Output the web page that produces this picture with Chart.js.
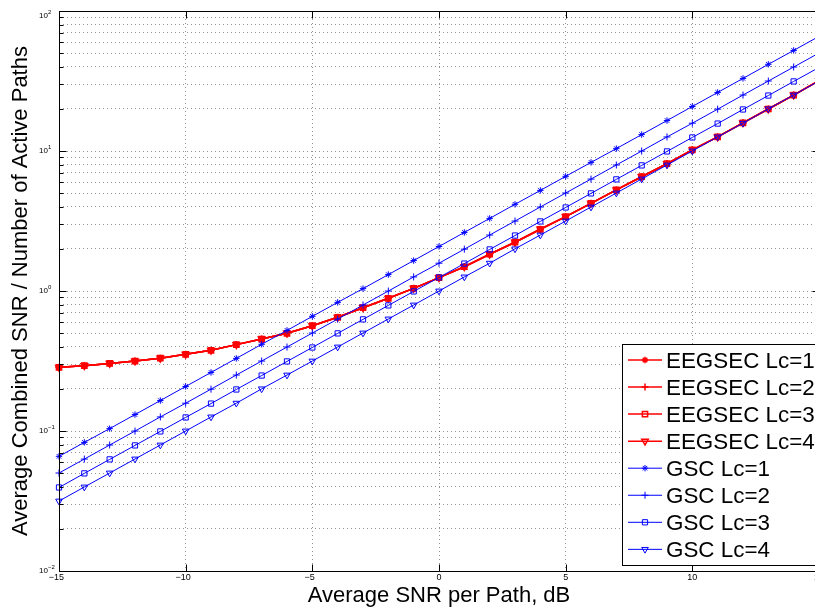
<!DOCTYPE html>
<html>
<head>
<meta charset="utf-8">
<script src="https://cdn.jsdelivr.net/npm/chart.js@4.4.1/dist/chart.umd.min.js"></script>
<style>
  html, body { margin: 0; padding: 0; background: #fff; overflow: hidden; width: 815px; height: 609px; }
  #wrap { position: relative; width: 840px; height: 609px; }
  canvas { display: block; }
</style>
</head>
<body>
<div id="wrap"><canvas id="c" width="840" height="609"></canvas></div>
<script>
// Average SNR per path (dB)
const snrDb = [-15, -14, -13, -12, -11, -10, -9, -8, -7, -6, -5, -4, -3, -2, -1,
               0, 1, 2, 3, 4, 5, 6, 7, 8, 9, 10, 11, 12, 13, 14, 15];

// EEGSEC: the four Lc curves lie on top of each other
const eegsec = [0.285, 0.293, 0.304, 0.316, 0.331, 0.353, 0.377, 0.414, 0.454, 0.499,
                0.565, 0.649, 0.760, 0.887, 1.045, 1.245, 1.49, 1.83, 2.23, 2.76,
                3.40, 4.23, 5.27, 6.55, 8.11, 10.2, 12.6, 15.9, 19.95, 25.1, 31.8];

// GSC, combined SNR divided by the number of combined paths
const gscLc1 = [0.0659, 0.0829, 0.104, 0.131, 0.165, 0.208, 0.262, 0.330, 0.416, 0.523,
                0.659, 0.829, 1.04, 1.31, 1.65, 2.08, 2.62, 3.30, 4.16, 5.23,
                6.59, 8.29, 10.4, 13.1, 16.5, 20.8, 26.2, 33.0, 41.6, 52.3, 65.9];
const gscLc2 = [0.0501, 0.0630, 0.0794, 0.0999, 0.126, 0.158, 0.199, 0.251, 0.316, 0.398,
                0.501, 0.630, 0.794, 0.999, 1.26, 1.58, 1.99, 2.51, 3.16, 3.98,
                5.01, 6.30, 7.94, 9.99, 12.6, 15.8, 19.9, 25.1, 31.6, 39.8, 50.1];
const gscLc3 = [0.0395, 0.0498, 0.0627, 0.0789, 0.0993, 0.125, 0.157, 0.198, 0.249, 0.314,
                0.395, 0.498, 0.627, 0.789, 0.993, 1.25, 1.57, 1.98, 2.49, 3.14,
                3.95, 4.98, 6.27, 7.89, 9.93, 12.5, 15.7, 19.8, 24.9, 31.4, 39.5];
const gscLc4 = [0.0316, 0.0398, 0.0501, 0.0631, 0.0794, 0.100, 0.126, 0.158, 0.200, 0.251,
                0.316, 0.398, 0.501, 0.631, 0.794, 1.00, 1.26, 1.58, 2.00, 2.51,
                3.16, 3.98, 5.01, 6.31, 7.94, 10.0, 12.6, 15.8, 20.0, 25.1, 31.6];

const seriesNames = ['EEGSEC Lc=1', 'EEGSEC Lc=2', 'EEGSEC Lc=3', 'EEGSEC Lc=4',
                     'GSC Lc=1', 'GSC Lc=2', 'GSC Lc=3', 'GSC Lc=4'];

// Axis ticks
const xTickValues = [-15, -10, -5, 0, 5, 10, 15];
const yDecadeExponents = [-2, -1, 0, 1, 2];
const xTitle = 'Average SNR per Path, dB';
const yTitle = 'Average Combined SNR / Number of Active Paths';

const FONT = '"Liberation Sans", Arial, Helvetica, sans-serif';
const RED = '#ff0000';
const BLUE = '#0000ff';

const markerStyles = [
  { pointStyle: 'star', radius: 3.2, rotation: 0 },
  { pointStyle: 'cross', radius: 3.5, rotation: 0 },
  { pointStyle: 'rect', radius: 3.7, rotation: 0 },
  { pointStyle: 'triangle', radius: 3.8, rotation: 180 }
];

function makeSeries(label, values, color, marker, width, order) {
  return {
    label: label,
    data: snrDb.map((x, i) => ({ x: x, y: values[i] })),
    borderColor: color,
    backgroundColor: 'rgba(0,0,0,0)',
    borderWidth: width,
    pointStyle: marker.pointStyle,
    pointRadius: marker.radius,
    pointHoverRadius: marker.radius,
    pointRotation: marker.rotation,
    pointBorderColor: color,
    pointBackgroundColor: 'rgba(0,0,0,0)',
    pointBorderWidth: width,
    tension: 0,
    clip: false,
    order: order
  };
}

const eegsecSeries = [eegsec, eegsec, eegsec, eegsec];
const gscSeries = [gscLc1, gscLc2, gscLc3, gscLc4];

const datasets = [];
eegsecSeries.forEach((vals, i) => datasets.push(makeSeries(seriesNames[i], vals, RED, markerStyles[i], 1.5, 1)));
gscSeries.forEach((vals, i) => datasets.push(makeSeries(seriesNames[4 + i], vals, BLUE, markerStyles[i], 1, 0)));

// Marker path used by the legend (same shapes as the plotted points)
function drawMarker(ctx, m, x, y) {
  if (Chart.helpers && Chart.helpers.drawPoint) {
    Chart.helpers.drawPoint(ctx, { pointStyle: m.pointStyle, radius: m.radius, rotation: m.rotation, borderWidth: ctx.lineWidth }, x, y);
    return;
  }
  const r = m.radius;
  ctx.beginPath();
  if (m.pointStyle === 'star') {
    for (let k = 0; k < 4; k++) {
      const a = k * Math.PI / 4;
      ctx.moveTo(x - Math.cos(a) * r, y - Math.sin(a) * r);
      ctx.lineTo(x + Math.cos(a) * r, y + Math.sin(a) * r);
    }
  } else if (m.pointStyle === 'cross') {
    ctx.moveTo(x - r, y); ctx.lineTo(x + r, y);
    ctx.moveTo(x, y - r); ctx.lineTo(x, y + r);
  } else if (m.pointStyle === 'rect') {
    const s = r * Math.SQRT1_2;
    ctx.rect(x - s, y - s, 2 * s, 2 * s);
  } else {
    const w = r * Math.sqrt(3) / 2;
    ctx.moveTo(x, y + r); ctx.lineTo(x - w, y - r / 2); ctx.lineTo(x + w, y - r / 2); ctx.closePath();
  }
  ctx.stroke();
}

// Box, inward ticks, tick labels and the legend
const framePlugin = {
  id: 'frame',
  afterDraw(chart) {
    const ctx = chart.ctx;
    const a = chart.chartArea;
    const xs = chart.scales.x;
    const ys = chart.scales.y;
    const L = Math.round(a.left) + 0.5;
    const R = Math.round(a.right) + 0.5;
    const T = Math.round(a.top) + 0.5;
    const B = Math.round(a.bottom) + 0.5;
    ctx.save();
    ctx.setLineDash([]);
    ctx.strokeStyle = '#000';
    ctx.lineWidth = 1;

    // ticks pointing into the plot
    ctx.beginPath();
    xTickValues.forEach(v => {
      const px = Math.round(xs.getPixelForValue(v)) + 0.5;
      ctx.moveTo(px, B); ctx.lineTo(px, B - 7);
      ctx.moveTo(px, T); ctx.lineTo(px, T + 7);
    });
    ys.ticks.forEach(t => {
      const py = Math.round(ys.getPixelForValue(t.value)) + 0.5;
      const len = t.major ? 7 : 4;
      ctx.moveTo(L, py); ctx.lineTo(L + len, py);
      ctx.moveTo(R, py); ctx.lineTo(R - len, py);
    });
    ctx.stroke();

    // axes box
    ctx.beginPath();
    ctx.rect(L, T, R - L, B - T);
    ctx.stroke();

    // x tick labels: digits centred on the tick, minus sign hanging to the left
    ctx.fillStyle = '#000';
    ctx.font = '9px ' + FONT;
    ctx.textBaseline = 'middle';
    xTickValues.forEach(v => {
      const px = xs.getPixelForValue(v);
      const digits = String(Math.abs(v));
      const w = ctx.measureText(digits).width;
      ctx.textAlign = 'left';
      ctx.fillText(digits, px - w / 2, 578);
      if (v < 0) {
        ctx.textAlign = 'right';
        ctx.fillText('\u2212', px - w / 2, 578);
      }
    });

    // y tick labels: powers of ten
    yDecadeExponents.forEach(e => {
      const py = Math.max(ys.getPixelForValue(Math.pow(10, e)), 16);
      ctx.textAlign = 'left';
      ctx.font = '8px ' + FONT;
      ctx.fillText('10', 39, py);
      ctx.font = '6px ' + FONT;
      ctx.fillText(e < 0 ? '\u2212' + Math.abs(e) : String(e), 48, py - 4);
    });

    // legend
    const bx = 622.5, by = 344.5, bw = 210, bh = 221;
    ctx.fillStyle = '#fff';
    ctx.fillRect(bx, by, bw, bh);
    ctx.strokeStyle = '#000';
    ctx.lineWidth = 1;
    ctx.strokeRect(bx, by, bw, bh);
    ctx.font = '22.4px ' + FONT;
    ctx.textAlign = 'left';
    ctx.textBaseline = 'alphabetic';
    chart.data.datasets.forEach((ds, i) => {
      const cy = 360 + i * 27.05;
      ctx.strokeStyle = ds.borderColor;
      ctx.lineWidth = ds.borderWidth;
      ctx.beginPath();
      ctx.moveTo(628, cy); ctx.lineTo(662, cy);
      ctx.stroke();
      ctx.fillStyle = 'rgba(0,0,0,0)';
      drawMarker(ctx, markerStyles[i % 4], 645, cy);
      ctx.fillStyle = '#000';
      ctx.fillText(ds.label, 666, cy + 7.8);
    });
    ctx.restore();
  }
};

const gridStyle = { color: 'rgba(0,0,0,0.42)', lineWidth: 1, drawTicks: false };

new Chart(document.getElementById('c'), {
  type: 'line',
  data: { datasets: datasets },
  options: {
    responsive: false,
    animation: false,
    devicePixelRatio: 1,
    layout: { padding: { left: 0, top: 11, right: 21, bottom: 0 } },
    plugins: { legend: { display: false }, tooltip: { enabled: false } },
    scales: {
      x: {
        type: 'linear',
        min: -15,
        max: 15,
        grid: gridStyle,
        border: { display: false, dash: [1, 3] },
        ticks: { display: false },
        afterBuildTicks: s => { s.ticks = xTickValues.map(v => ({ value: v })); },
        afterFit: s => { s.height = 38; },
        title: { display: true, text: xTitle, color: '#000', font: { family: FONT, size: 22 }, padding: { top: 0, bottom: 0 } }
      },
      y: {
        type: 'logarithmic',
        min: 0.01,
        max: 100,
        grid: gridStyle,
        border: { display: false, dash: [1, 3] },
        ticks: { display: false },
        afterBuildTicks: s => {
          const t = [];
          yDecadeExponents.forEach(e => {
            const base = Math.pow(10, e);
            const top = e === yDecadeExponents[yDecadeExponents.length - 1] ? 1 : 9;
            for (let m = 1; m <= top; m++) t.push({ value: m * base, major: m === 1 });
          });
          s.ticks = t;
        },
        afterFit: s => { s.width = 59; },
        title: { display: true, text: yTitle, color: '#000', font: { family: FONT, size: 22 }, padding: { top: 8, bottom: 0 } }
      }
    }
  },
  plugins: [framePlugin]
});
</script>
</body>
</html>
